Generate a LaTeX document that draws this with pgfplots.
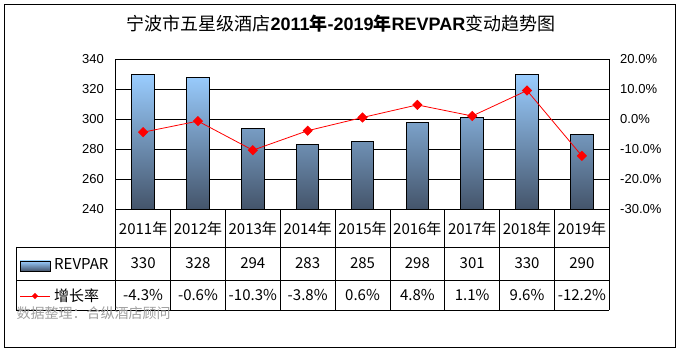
\documentclass[border=0pt]{standalone}
\usepackage{fontspec}
\setmainfont{Liberation Sans}
\newfontfamily\cjk{Noto Sans CJK SC}
\usepackage{pgfplots}
\pgfplotsset{compat=1.18}
\definecolor{bartop}{HTML}{9ACDFF}
\definecolor{barbot}{HTML}{44546A}
\definecolor{srcgray}{HTML}{A0A0A0}

\begin{document}
\begin{tikzpicture}[x=1pt,y=1pt]
\useasboundingbox (0,0) rectangle (684,353);
\fill[white] (0,0) rectangle (684,353);
\draw[black, line width=1pt] (4.5,6) rectangle (675.5,348.5);
\node[font=\fontsize{18}{18}\selectfont] at (341,329)
  {{\cjk 宁波市五星级酒店}\textbf{2011}{\cjk\bfseries 年}\textbf{-2019}{\cjk\bfseries 年}\textbf{REVPAR}{\cjk 变动趋势图}};

\begin{axis}[
  at={(115.7pt,143.7pt)}, anchor=south west,
  scale only axis, width=493.6pt, height=150pt,
  xmin=-0.5, xmax=8.5,
  ymin=240, ymax=340,
  y coord trafo/.code={\pgfmathparse{#1-240}},
  y coord inv trafo/.code={\pgfmathparse{#1+240}},
  ytick={240,260,280,300,320,340},
  xtick={0,...,8},
  xticklabels={2011年,2012年,2013年,2014年,2015年,2016年,2017年,2018年,2019年},
  xticklabel style={font=\cjk\fontsize{15}{15}\selectfont, anchor=center, yshift=-19pt},
  yticklabel style={font=\fontsize{13}{13}\selectfont, xshift=-8.4pt},
  /pgf/number format/assume math mode=true,
  major tick length=0pt,
  ymajorgrids,
  major grid style={black, line width=0.8pt},
  axis line style={black, line width=0.8pt},
  axis on top=false,
]
\addplot[ybar, bar width=22.5pt, draw=black, line width=1pt,
  top color=bartop, bottom color=barbot]
  coordinates {(0,330) (1,328) (2,294) (3,283) (4,285) (5,298) (6,301) (7,330) (8,290)};
\end{axis}

\begin{axis}[
  at={(115.7pt,143.7pt)}, anchor=south west,
  scale only axis, width=493.6pt, height=150pt,
  xmin=-0.5, xmax=8.5,
  ymin=-30, ymax=20,
  axis y line*=right, axis x line=none,
  ytick={-30,-20,-10,0,10,20},
  yticklabels={-30.0\%,-20.0\%,-10.0\%,0.0\%,10.0\%,20.0\%},
  yticklabel style={font=\fontsize{13}{13}\selectfont, xshift=7.4pt},
  major tick length=0pt,
  axis line style={black, line width=0.8pt},
]
\addplot[red, line width=0.8pt, mark=square*, mark size=3.2pt,
  mark options={rotate=45, fill=red, draw=red, solid}]
  coordinates {(0,-4.3) (1,-0.6) (2,-10.3) (3,-3.8) (4,0.6) (5,4.8) (6,1.1) (7,9.6) (8,-12.2)};
\end{axis}

% data table grid
\foreach \k in {0,...,9} {
  \draw[black, line width=0.8pt] ({115.7+\k*54.844},143.7) -- ({115.7+\k*54.844},43);
}
\draw[black, line width=0.8pt] (16.3,106) -- (609.3,106);
\draw[black, line width=0.8pt] (16.3,73) -- (609.3,73);
\draw[black, line width=0.8pt] (16.3,43) -- (609.3,43);
\draw[black, line width=0.8pt] (16.3,106) -- (16.3,43);

% legend keys
\draw[black, line width=0.8pt, top color=bartop, bottom color=barbot] (20,82) rectangle (50,92);
\node[anchor=west, font=\cjk\fontsize{15}{15}\selectfont, inner sep=0pt] at (54,88.5) {REVPAR};
\draw[red, line width=0.8pt] (20,57) -- (50,57);
\fill[red] (35,60.2) -- (38.2,57) -- (35,53.8) -- (31.8,57) -- cycle;
\node[anchor=west, font=\cjk\fontsize{15}{15}\selectfont, inner sep=0pt] at (54,57) {增长率};

% table values
\foreach \v [count=\i from 0] in {330,328,294,283,285,298,301,330,290} {
  \node[font=\cjk\fontsize{15}{15}\selectfont] at ({115.7+(\i+0.5)*54.844},89.5) {\v};
}
\foreach \v [count=\i from 0] in {-4.3\%,-0.6\%,-10.3\%,-3.8\%,0.6\%,4.8\%,1.1\%,9.6\%,-12.2\%} {
  \node[font=\cjk\fontsize{15}{15}\selectfont] at ({115.7+(\i+0.5)*54.844},58) {\v};
}

\node[anchor=west, text=srcgray, font=\cjk\fontsize{14}{14}\selectfont, inner sep=0pt] at (16.5,40) {数据整理：合纵酒店顾问};
\end{tikzpicture}
\end{document}
